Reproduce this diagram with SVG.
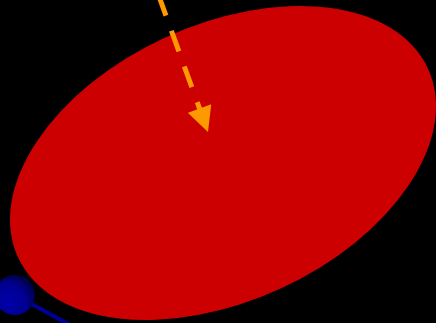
<svg xmlns="http://www.w3.org/2000/svg" width="436" height="323" viewBox="0 0 436 323">
  <defs>
    <style>
      .edge-orange { fill: none; stroke: #ff9900; stroke-width: 5; stroke-dasharray: 22 16; }
      .edge-blue { fill: none; stroke: #000099; stroke-width: 4; }
    </style>
    <marker id="arrow" viewBox="0 0 10 10" refX="10" refY="5" markerWidth="5.4" markerHeight="5" markerUnits="strokeWidth" orient="auto">
      <path d="M0,0 L10,5 L0,10 Z" fill="#ff9900"/>
    </marker>
    <radialGradient id="ballGrad" cx="0.3" cy="0.7" r="0.8">
      <stop offset="0" stop-color="#0000aa"/>
      <stop offset="0.6" stop-color="#000090"/>
      <stop offset="1" stop-color="#00003a"/>
    </radialGradient>
  </defs>
  <rect x="0" y="0" width="436" height="323" fill="#000000"/>
  <g id="ellipse-node">
    <ellipse cx="223" cy="163" rx="225.7" ry="138.2" transform="rotate(-24.7 223 163)" fill="#cc0000"/>
  </g>
  <g id="connectors">
    <path class="edge-orange" d="M158.5,-5 L208,132" marker-end="url(#arrow)"/>
    <path class="edge-blue" d="M15,295 L70,325"/>
  </g>
  <g id="ball-node">
    <circle cx="15" cy="295" r="20" fill="url(#ballGrad)"/>
  </g>
</svg>
